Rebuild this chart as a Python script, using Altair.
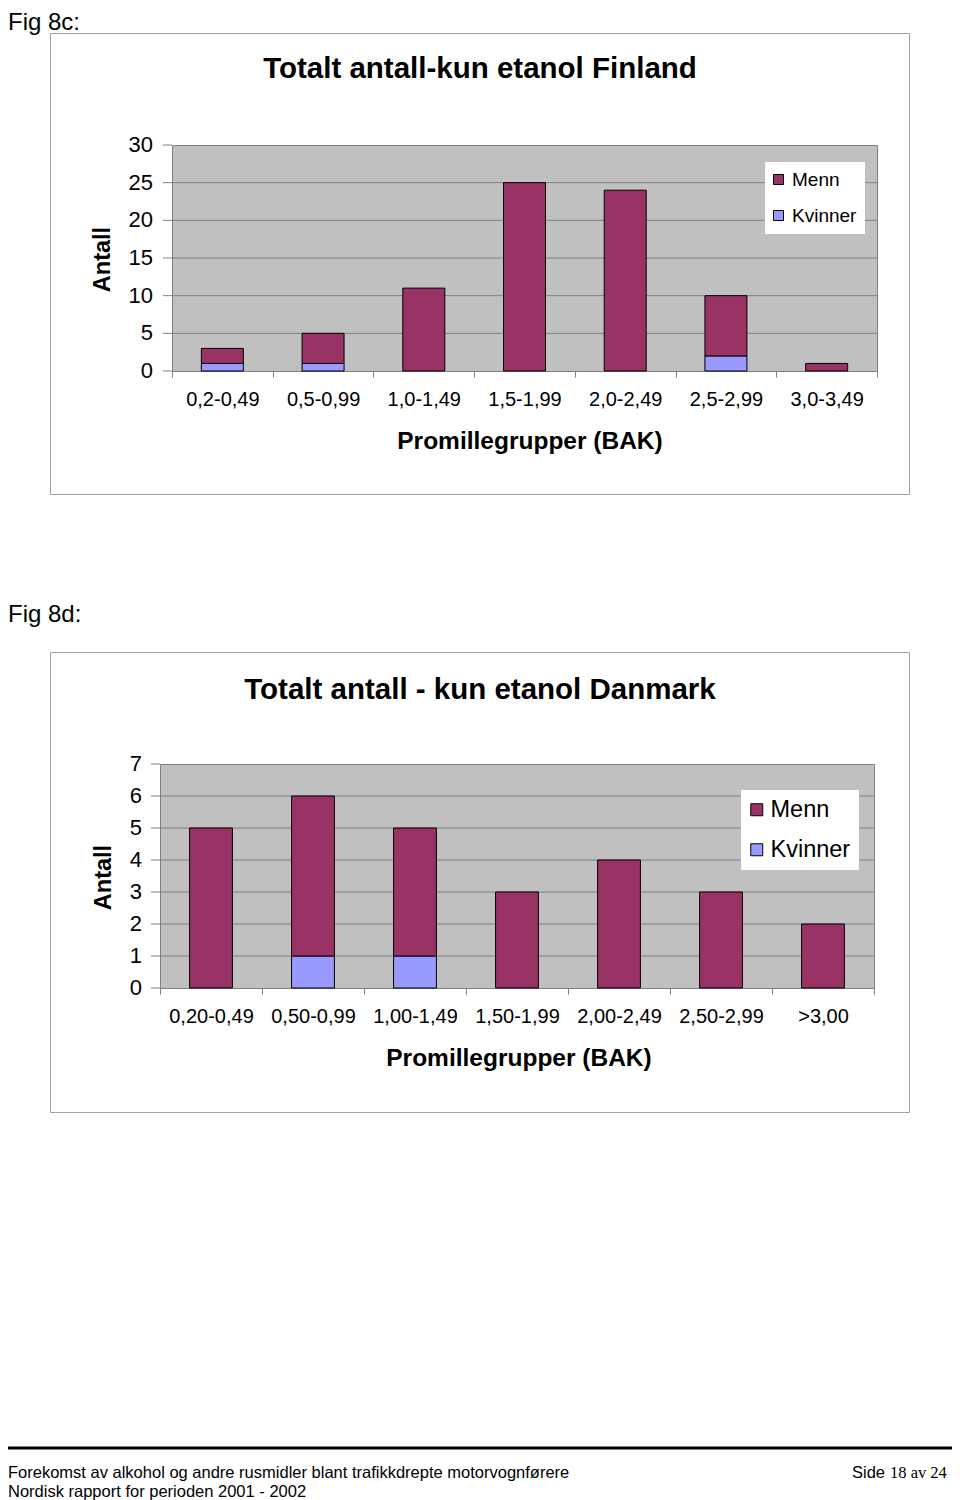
import altair as alt
import pandas as pd

# ---------------- data ----------------
fin_kategorier = ["0,2-0,49", "0,5-0,99", "1,0-1,49", "1,5-1,99", "2,0-2,49", "2,5-2,99", "3,0-3,49"]
fin_menn = [2, 4, 11, 25, 24, 8, 1]
fin_kvinner = [1, 1, 0, 0, 0, 2, 0]
fin_yticks = [0, 5, 10, 15, 20, 25, 30]

dk_kategorier = ["0,20-0,49", "0,50-0,99", "1,00-1,49", "1,50-1,99", "2,00-2,49", "2,50-2,99", ">3,00"]
dk_menn = [5, 5, 4, 3, 4, 3, 2]
dk_kvinner = [0, 1, 1, 0, 0, 0, 0]
dk_yticks = [0, 1, 2, 3, 4, 5, 6, 7]

grupper = ["Menn", "Kvinner"]
farger = ["#993366", "#9999FF"]

fin_tittel = "Totalt antall-kun etanol Finland"
dk_tittel = "Totalt antall - kun etanol Danmark"
x_tittel = "Promillegrupper (BAK)"
y_tittel = "Antall"
footer1 = "Forekomst av alkohol og andre rusmidler blant trafikkdrepte motorvognførere"
footer2 = "Nordisk rapport for perioden 2001 - 2002"

# ---------------- layout ----------------
W, H = 944, 1492
FONT = "Liberation Sans"
ONE = pd.DataFrame({"k": [0]})


def long_table(cats, menn, kvinner):
    rows = []
    for c, m, k in zip(cats, menn, kvinner):
        if k:
            rows.append({"kat": c, "gruppe": "Kvinner", "antall": k, "ord": 0})
        if m:
            rows.append({"kat": c, "gruppe": "Menn", "antall": m, "ord": 1})
    return pd.DataFrame(rows)


def txt(s, x, y, size, bold=False, align="left", angle=0, font=FONT):
    return alt.Chart(ONE).mark_text(
        text=s, fontSize=size, fontWeight="bold" if bold else "normal",
        align=align, baseline="alphabetic", angle=angle, font=font, color="black"
    ).encode(x=alt.value(x), y=alt.value(y))


def box(x1, y1, x2, y2, fill, stroke):
    return alt.Chart(ONE).mark_rect(fill=fill, stroke=stroke, strokeWidth=1).encode(
        x=alt.value(x1), x2=alt.value(x2), y=alt.value(y1), y2=alt.value(y2))


def figure(cats, menn, kvinner, ticks, px0, px1, ptop, pbot, bar_band,
           xlab, ylab, ytick, ypad, leg_x, leg_y, leg_font, leg_sym, leg_off, leg_row):
    xs = alt.Scale(domain=cats, range=[px0, px1], paddingInner=0, paddingOuter=0)
    ys = alt.Scale(domain=[0, ticks[-1]], range=[pbot, ptop], nice=False, zero=True)
    tickdf = pd.DataFrame({"v": ticks})
    bg = box(px0 + 0.5, ptop + 0.5, px1 + 0.5, pbot + 0.5, "#C0C0C0", "#808080")
    grid = alt.Chart(pd.DataFrame({"v": ticks[1:-1]})).mark_rule(
        color="#808080", strokeWidth=1
    ).encode(y=alt.Y("v:Q", scale=ys, axis=None), x=alt.value(px0), x2=alt.value(px1))
    yticks = alt.Chart(tickdf).mark_rule(color="#808080", strokeWidth=1).encode(
        y=alt.Y("v:Q", scale=ys, axis=None),
        x=alt.value(px0 - ytick), x2=alt.value(px0))
    ylabels = alt.Chart(tickdf).mark_text(
        align="right", baseline="middle", fontSize=ylab, font=FONT, color="black"
    ).encode(y=alt.Y("v:Q", scale=ys, axis=None),
             x=alt.value(px0 - ytick - ypad), text=alt.Text("v:Q", format="d"))
    bars = alt.Chart(long_table(cats, menn, kvinner)).mark_bar(
        width={"band": bar_band}, stroke="black", strokeWidth=1
    ).encode(
        x=alt.X("kat:N", scale=xs, sort=cats, axis=alt.Axis(
            orient="bottom", offset=pbot - H, title=None, domain=False, grid=False,
            tickBand="extent", tickSize=6, tickColor="#808080", labelAngle=0,
            labelFontSize=xlab, labelFont=FONT, labelColor="black", labelPadding=12,
            labelOverlap=False, zindex=1)),
        y=alt.Y("antall:Q", scale=ys, stack="zero", axis=None),
        color=alt.Color("gruppe:N", scale=alt.Scale(domain=grupper, range=farger),
                        legend=alt.Legend(
                            title=None, orient="none", legendX=leg_x, legendY=leg_y,
                            fillColor="white", padding=8, symbolType="square",
                            symbolSize=leg_sym, symbolStrokeColor="black",
                            symbolStrokeWidth=1, symbolOffset=-4,
                            labelFontSize=leg_font, labelFont=FONT,
                            labelColor="black", labelOffset=leg_off, rowPadding=leg_row,
                            zindex=1)),
        order=alt.Order("ord:Q"),
    )
    return alt.layer(bg, grid, yticks, ylabels, bars)


fig1 = figure(fin_kategorier, fin_menn, fin_kvinner, fin_yticks,
              164, 869, 137, 363, 0.417, 20, 22, 9, 10,
              757, 154, 19, 100, 4, 16)
fig2 = figure(dk_kategorier, dk_menn, dk_kvinner, dk_yticks,
              152, 866, 756, 980, 0.42, 20, 22, 9, 9,
              733, 782, 23.5, 144, 2, 15)

layers = [
    box(42.5, 25.5, 901.5, 486.5, "white", "#A0A0A0"),
    box(42.5, 644.5, 901.5, 1104.5, "white", "#A0A0A0"),
    fig1,
    fig2,
    txt("Fig 8c:", 0, 22, 24),
    txt(fin_tittel, 472, 70, 29.5, bold=True, align="center"),
    txt(y_tittel, 102, 251.5, 23.5, bold=True, align="center", angle=270),
    txt(x_tittel, 522, 441, 24.5, bold=True, align="center"),
    txt("Fig 8d:", 0, 614, 24),
    txt(dk_tittel, 472, 691, 29.5, bold=True, align="center"),
    txt(y_tittel, 103, 869.5, 23.5, bold=True, align="center", angle=270),
    txt(x_tittel, 511, 1058, 24.5, bold=True, align="center"),
    alt.Chart(ONE).mark_rule(color="black", strokeWidth=3).encode(
        x=alt.value(0), x2=alt.value(W), y=alt.value(1440)),
    txt(footer1, 0, 1470, 16.5),
    txt(footer2, 0, 1489, 16.5),
    txt("Side", 877, 1470, 16.5, align="right"),
    txt("18 av 24", 882, 1470, 16.5, font="Liberation Serif"),
]

chart = alt.layer(*layers).resolve_scale(
    x="independent", y="independent", color="independent"
).properties(
    width=W, height=H, padding=0, autosize=alt.AutoSizeParams(type="none")
).configure(font=FONT).configure_view(strokeWidth=0)

chart.save("out.html", embed_options={"renderer": "svg", "actions": False})
